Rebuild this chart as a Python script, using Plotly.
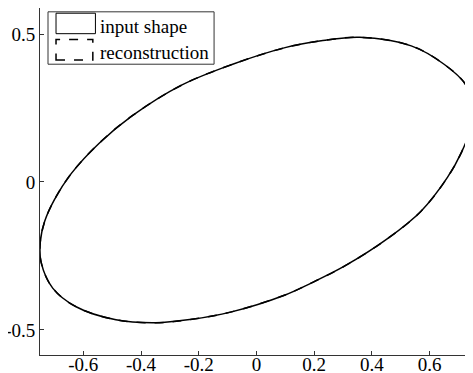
import plotly.graph_objects as go

# contour points (closed curve, counter-clockwise)
shape_x = [0.742, 0.740, 0.725, 0.651, 0.536, 0.358, 0.230, 0.099, -0.085, -0.258,
           -0.430, -0.545, -0.642, -0.700, -0.734, -0.749, -0.746, -0.706, -0.625, -0.487,
           -0.349, -0.230, -0.090, 0.099, 0.191, 0.306, 0.455, 0.570, 0.662, 0.710,
           0.740, 0.742]
shape_y = [0.220, 0.270, 0.328, 0.397, 0.460, 0.489, 0.478, 0.454, 0.397, 0.328,
           0.224, 0.131, 0.028, -0.060, -0.134, -0.203, -0.272, -0.359, -0.422, -0.466,
           -0.476, -0.465, -0.440, -0.382, -0.341, -0.284, -0.191, -0.099, 0.016, 0.100,
           0.178, 0.220]

# reconstruction sits on top of the input shape
recon_x = list(shape_x)
recon_y = list(shape_y)

x_ticks = [-0.6, -0.4, -0.2, 0, 0.2, 0.4, 0.6]
x_labels = ["-0.6", "-0.4", "-0.2", "0", "0.2", "0.4", "0.6"]
y_ticks = [-0.5, 0, 0.5]
y_labels = ["-0.5", "0", "0.5"]
legend_names = ["input shape", "reconstruction"]

serif = "Liberation Serif, DejaVu Serif, serif"
fsize = 19

fig = go.Figure()
fig.add_trace(go.Scatter(
    x=shape_x, y=shape_y, name=legend_names[0], mode="lines", showlegend=False,
    line=dict(color="black", width=1.5, shape="spline", smoothing=1.0)
))
fig.add_trace(go.Scatter(
    x=recon_x, y=recon_y, name=legend_names[1], mode="lines", showlegend=False,
    line=dict(color="black", width=1.5, dash="dash", shape="spline", smoothing=1.0)
))

# matlab style legend built by hand: frame, patch swatches and labels
fig.add_shape(type="rect", xref="paper", yref="paper", x0=0.0185, x1=0.402, y0=0.838, y1=0.989,
              line=dict(color="#333333", width=1), fillcolor="white", layer="above")
fig.add_shape(type="rect", xref="paper", yref="paper", x0=0.037, x1=0.128, y0=0.926, y1=0.985,
              line=dict(color="black", width=1), layer="above")
fig.add_shape(type="rect", xref="paper", yref="paper", x0=0.037, x1=0.122, y0=0.850, y1=0.909,
              line=dict(color="black", width=1.5, dash="dash"), layer="above")
for nm, ypos in zip(legend_names, [0.947, 0.873]):
    fig.add_annotation(text=nm, xref="paper", yref="paper", x=0.134, y=ypos,
                       xanchor="left", yanchor="middle", showarrow=False,
                       font=dict(family=serif, size=fsize, color="black"))

axis_style = dict(showgrid=False, zeroline=False, showline=True, linecolor="#333333",
                  linewidth=1, ticks="inside", ticklen=4, tickcolor="#333333",
                  mirror=False, automargin=False,
                  tickfont=dict(family=serif, size=fsize, color="black"))

# page body has an 8px margin, so the figure is a bit smaller than the window
fig.update_layout(
    width=465, height=365,
    margin=dict(l=32, r=0, t=0, b=18),
    paper_bgcolor="white", plot_bgcolor="white",
    font=dict(family=serif, size=fsize, color="black"),
    showlegend=False,
    xaxis=dict(range=[-0.75, 0.75], tickvals=x_ticks, ticktext=x_labels,
               ticklabelstandoff=-8, **axis_style),
    yaxis=dict(range=[-0.585, 0.588], tickvals=y_ticks, ticktext=y_labels, **axis_style),
)

fig.write_html("out.html")
